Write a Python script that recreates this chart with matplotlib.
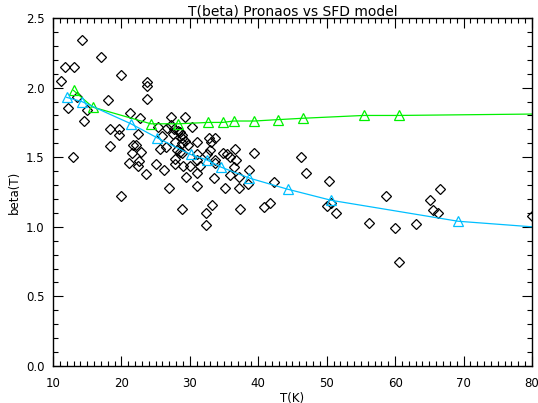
import numpy as np
import matplotlib
matplotlib.use("Agg")
import matplotlib.pyplot as plt
from matplotlib.ticker import MultipleLocator, FormatStrFormatter

# ---- data ----
# Pronaos measurements (T in K, beta)
t_obs = [14.2, 11.8, 13.1, 11.1, 17.0, 20.0, 23.7, 23.7, 23.7, 13.5,
         12.2, 14.9, 18.1, 21.2, 22.7, 14.5, 18.3, 19.6, 19.6, 22.4,
         18.4, 21.7, 22.2, 21.6, 22.8, 12.9, 21.1, 22.6, 22.4, 23.6,
         20.0, 27.2, 29.3, 25.4, 26.6, 30.3, 27.7, 27.6, 28.6, 28.8,
         33.7, 25.9, 28.8, 29.3, 31.0, 32.8, 33.1, 27.9, 28.1, 28.5,
         28.8, 26.5, 25.7, 29.8, 31.0, 32.9, 32.5, 34.8, 35.4, 35.8,
         36.6, 36.8, 33.7, 39.4, 25.1, 26.2, 27.8, 29.0, 30.0, 31.5,
         29.4, 31.1, 33.6, 35.8, 36.5, 37.2, 38.5, 35.2, 37.2, 31.1,
         27.0, 42.3, 28.8, 33.3, 32.3, 32.4, 37.4, 40.9, 41.7, 46.2,
         47.0, 50.4, 50.0, 50.6, 51.4, 56.2, 58.7, 60.0, 60.6, 63.1,
         65.1, 66.6, 65.6, 66.2, 80.0, 27.8, 31.1, 33.7, 38.7, 28.3,
         27.3, 28.9]
beta_obs = [2.34, 2.15, 2.15, 2.05, 2.22, 2.09, 2.04, 2.01, 1.92, 1.93,
            1.85, 1.84, 1.91, 1.82, 1.78, 1.76, 1.70, 1.70, 1.66, 1.67,
            1.58, 1.59, 1.59, 1.53, 1.54, 1.50, 1.46, 1.47, 1.44, 1.38,
            1.22, 1.79, 1.79, 1.72, 1.71, 1.72, 1.70, 1.67, 1.68, 1.66,
            1.64, 1.65, 1.64, 1.62, 1.61, 1.64, 1.61, 1.61, 1.55, 1.54,
            1.53, 1.57, 1.56, 1.59, 1.52, 1.55, 1.52, 1.53, 1.52, 1.50,
            1.56, 1.48, 1.48, 1.53, 1.45, 1.41, 1.45, 1.44, 1.44, 1.44,
            1.36, 1.39, 1.35, 1.37, 1.43, 1.36, 1.31, 1.28, 1.28, 1.29,
            1.28, 1.32, 1.13, 1.16, 1.10, 1.01, 1.13, 1.14, 1.17, 1.50,
            1.39, 1.33, 1.15, 1.17, 1.10, 1.03, 1.22, 0.99, 0.75, 1.02,
            1.19, 1.27, 1.12, 1.10, 1.08, 1.49, 1.48, 1.46, 1.41, 1.69,
            1.73, 1.60]

# SFD model, green branch
t_green = [13.0, 15.8, 24.3, 28.3, 32.7, 34.8, 36.4, 39.4, 42.9, 46.6, 55.4, 60.5]
beta_green = [1.98, 1.86, 1.74, 1.74, 1.75, 1.75, 1.76, 1.76, 1.77, 1.78, 1.80, 1.80]
t_green_line = t_green + [80.0]
beta_green_line = beta_green + [1.81]

# SFD model, blue branch
t_blue = [12.0, 14.2, 21.4, 25.2, 30.1, 32.5, 34.5, 38.7, 44.3, 50.7, 69.2]
beta_blue = [1.93, 1.90, 1.74, 1.64, 1.52, 1.48, 1.43, 1.35, 1.27, 1.19, 1.04]
t_blue_line = t_blue + [80.0]
beta_blue_line = beta_blue + [1.00]

GREEN = "#00f000"
BLUE = "#00bfff"

fig = plt.figure(figsize=(5.38, 4.03), dpi=100)
fig.patch.set_facecolor("white")
ax = fig.add_axes([0.0985, 0.0918, 0.8903, 0.8635])

ax.plot(t_obs, beta_obs, linestyle="none", marker="D", ms=4.7,
        mfc="none", mec="black", mew=0.9)

ax.plot(t_green_line, beta_green_line, color=GREEN, lw=0.9)
ax.plot(t_green, beta_green, linestyle="none", marker="^", ms=6.5,
        mfc="none", mec=GREEN, mew=0.9)

ax.plot(t_blue_line, beta_blue_line, color=BLUE, lw=0.9)
ax.plot(t_blue, beta_blue, linestyle="none", marker="^", ms=6.5,
        mfc="none", mec=BLUE, mew=0.9)

ax.set_xlim(10, 80)
ax.set_ylim(0.0, 2.5)
ax.xaxis.set_major_locator(MultipleLocator(10))
ax.xaxis.set_minor_locator(MultipleLocator(1))
ax.yaxis.set_major_locator(MultipleLocator(0.5))
ax.yaxis.set_minor_locator(MultipleLocator(0.1))
ax.yaxis.set_major_formatter(FormatStrFormatter("%.1f"))

ax.tick_params(which="both", direction="in", top=True, right=True,
               labelsize=8.5, width=0.8, colors="black")
ax.tick_params(axis="x", which="major", length=7, pad=8)
ax.tick_params(axis="y", which="major", length=7, pad=6)
ax.tick_params(which="minor", length=3.5)
for s in ax.spines.values():
    s.set_linewidth(1.0)

ax.set_title("T(beta) Pronaos vs SFD model", fontsize=10, pad=2)
ax.set_xlabel("T(K)", fontsize=8.5, labelpad=1)
ax.set_ylabel("beta(T)", fontsize=8.5, labelpad=4)

fig.savefig("out.png", dpi=100, facecolor="white")
